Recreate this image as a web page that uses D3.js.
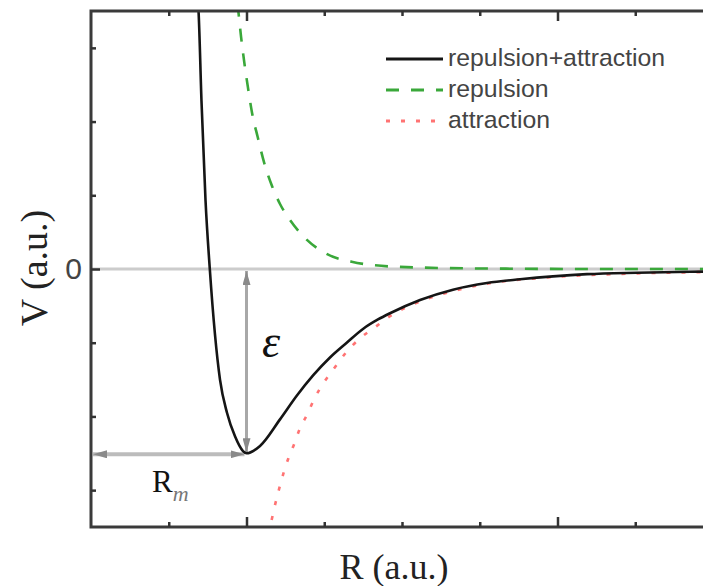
<!DOCTYPE html>
<html>
<head>
<meta charset="utf-8">
<script src="https://cdn.jsdelivr.net/npm/d3@7"></script>
<style>
	body { margin: 0; background: #fff; }
	svg { display: block; }
</style>
</head>
<body>
<svg id="chart" width="703" height="586"></svg>
<script>
'use strict';

// values (R and V in arbitrary units)
const totalR = [1.37, 1.383, 1.421, 1.473, 1.528, 1.659, 1.749, 1.852, 1.955, 2.0, 2.174, 2.431, 2.646, 2.859, 3.074, 3.289, 3.502, 3.691, 3.846, 4.232, 4.656, 5.093, 5.518, 5.942, 6.379, 7.023, 7.871, 8.0];
const totalV = [3.7, 3.5, 2.28, 0.93, 0.0, -1.5, -1.95, -2.27, -2.47, -2.5, -2.4, -2.04, -1.72, -1.44, -1.2, -1.0, -0.81, -0.685, -0.6, -0.42, -0.28, -0.19, -0.14, -0.1, -0.07, -0.05, -0.035, -0.033];

const repR = [1.885, 1.895, 1.929, 1.972, 2.019, 2.071, 2.144, 2.225, 2.328, 2.431, 2.559, 2.727, 3.031, 3.353, 3.653, 4.232, 5.26, 6.547, 8.0];
const repV = [3.6, 3.5, 3.16, 2.8, 2.46, 2.12, 1.79, 1.45, 1.126, 0.882, 0.665, 0.448, 0.204, 0.099, 0.05, 0.02, 0.005, 0.0, 0.0];

const attR = [2.277, 2.302, 2.367, 2.418, 2.473, 2.538, 2.611, 2.688, 2.787, 2.872, 2.988, 3.125, 3.267, 3.46, 3.64, 3.846, 4.232, 4.656, 5.093, 5.942, 7.023, 8.0];
const attV = [-3.6, -3.5, -3.2, -2.99, -2.78, -2.57, -2.38, -2.16, -1.96, -1.76, -1.55, -1.35, -1.15, -0.94, -0.8, -0.64, -0.44, -0.3, -0.2, -0.11, -0.06, -0.04];

// well minimum used by the epsilon / Rm arrows
const minR = 2.0;
const minV = -2.5;

const xMinorTicks = [1, 3, 4, 5, 7];
const xMajorTicks = [2, 6];
const yMinorTicks = [-3, -2, -1, 1, 2, 3];
const yLabelTicks = [0];

const legendLabels = ['repulsion+attraction', 'repulsion', 'attraction'];

const plotLeft = 91, plotTop = 11, plotRight = 713, plotBottom = 527;

const x = d3.scaleLinear().domain([0, 8]).range([plotLeft, plotRight]);
const y = d3.scaleLinear().domain([-3.5, 3.5]).range([plotBottom, plotTop]);

const svg = d3.select('#chart');
const defs = svg.append('defs');

defs.append('clipPath')
	.attr('id', 'plot-clip')
	.append('rect')
	.attr('x', plotLeft)
	.attr('y', plotTop)
	.attr('width', plotRight - plotLeft)
	.attr('height', plotBottom - plotTop);

const marker = defs.append('marker')
	.attr('id', 'arrow')
	.attr('markerUnits', 'userSpaceOnUse')
	.attr('viewBox', '0 0 14 8')
	.attr('markerWidth', 14)
	.attr('markerHeight', 8)
	.attr('refX', 14)
	.attr('refY', 4)
	.attr('orient', 'auto-start-reverse');
marker.append('path').attr('d', 'M0,0 L14,4 L0,8 z').attr('fill', '#8a8a8a');

// zero line
svg.append('line')
	.attr('x1', x(0)).attr('x2', x(8))
	.attr('y1', y(0)).attr('y2', y(0))
	.attr('stroke', '#cccccc')
	.attr('stroke-width', 3);

// arrows for epsilon and Rm
svg.append('line')
	.attr('x1', x(minR)).attr('x2', x(minR))
	.attr('y1', y(0) + 2).attr('y2', y(minV) - 1)
	.attr('stroke', '#a8a8a8')
	.attr('stroke-width', 3)
	.attr('marker-start', 'url(#arrow)')
	.attr('marker-end', 'url(#arrow)');

svg.append('line')
	.attr('x1', x(0) + 2).attr('x2', x(minR) - 2)
	.attr('y1', y(minV) + 1).attr('y2', y(minV) + 1)
	.attr('stroke', '#bcbcbc')
	.attr('stroke-width', 4)
	.attr('marker-start', 'url(#arrow)')
	.attr('marker-end', 'url(#arrow)');

// curves
const plot = svg.append('g').attr('clip-path', 'url(#plot-clip)');

function drawCurve(rs, vs, color, width, dash) {
	const line = d3.line()
		.x((d, i) => x(rs[i]))
		.y((d, i) => y(vs[i]))
		.curve(d3.curveMonotoneX);
	plot.append('path')
		.datum(vs)
		.attr('d', line)
		.attr('fill', 'none')
		.attr('stroke', color)
		.attr('stroke-width', width)
		.attr('stroke-dasharray', dash);
}

drawCurve(repR, repV, '#3aa83a', 2.6, '13,12');
drawCurve(attR, attV, '#ff7373', 2.6, '4,11');
drawCurve(totalR, totalV, '#151515', 2.6, null);

// frame
svg.append('rect')
	.attr('x', plotLeft).attr('y', plotTop)
	.attr('width', plotRight - plotLeft).attr('height', plotBottom - plotTop)
	.attr('fill', 'none')
	.attr('stroke', '#3a3a3a')
	.attr('stroke-width', 3);

// inward ticks
function ticks(axis, pos) {
	const g = svg.append('g').attr('transform', pos).call(axis);
	g.select('.domain').remove();
	g.selectAll('.tick line').attr('stroke', '#333').attr('stroke-width', 2.5);
	return g;
}

ticks(d3.axisBottom(x).tickValues(xMinorTicks).tickSize(-5).tickFormat(''), `translate(0,${plotBottom})`);
ticks(d3.axisBottom(x).tickValues(xMajorTicks).tickSize(-10).tickFormat(''), `translate(0,${plotBottom})`);
ticks(d3.axisTop(x).tickValues(xMinorTicks).tickSize(-5).tickFormat(''), `translate(0,${plotTop})`);
ticks(d3.axisTop(x).tickValues(xMajorTicks).tickSize(-10).tickFormat(''), `translate(0,${plotTop})`);
ticks(d3.axisLeft(y).tickValues(yMinorTicks).tickSize(-5).tickFormat(''), `translate(${plotLeft},0)`);

const yLab = ticks(
	d3.axisLeft(y).tickValues(yLabelTicks).tickSize(-9).tickPadding(9).tickFormat(d3.format('d')),
	`translate(${plotLeft},0)`
);
yLab.selectAll('.tick text')
	.attr('font-family', '"Liberation Sans", Arial, sans-serif')
	.attr('font-size', 30)
	.attr('fill', '#444');

// axis titles
svg.append('text')
	.attr('transform', 'translate(34,268) rotate(-90)')
	.attr('text-anchor', 'middle')
	.attr('dominant-baseline', 'central')
	.attr('font-family', '"Liberation Serif", "Times New Roman", serif')
	.attr('font-size', 38)
	.attr('fill', '#222')
	.text('V (a.u.)');

svg.append('text')
	.attr('x', 394)
	.attr('y', 579)
	.attr('text-anchor', 'middle')
	.attr('font-family', '"Liberation Serif", "Times New Roman", serif')
	.attr('font-size', 36)
	.attr('fill', '#222')
	.text('R (a.u.)');

// annotations
svg.append('text')
	.attr('x', x(2.2))
	.attr('y', y(-1.2))
	.attr('font-family', '"Liberation Serif", "Times New Roman", serif')
	.attr('font-style', 'italic')
	.attr('font-size', 46)
	.attr('fill', '#111')
	.text('ε');

const rm = svg.append('text')
	.attr('x', x(0.785))
	.attr('y', y(-3.03))
	.attr('font-family', '"Liberation Serif", "Times New Roman", serif')
	.attr('font-size', 31)
	.attr('fill', '#111');
rm.append('tspan').text('R');
rm.append('tspan')
	.attr('dy', 9)
	.attr('font-size', 22)
	.attr('font-style', 'italic')
	.attr('fill', '#777')
	.text('m');

// legend
const legendStyles = [
	{ color: '#151515', dash: null },
	{ color: '#3aa83a', dash: '13,12' },
	{ color: '#ff7373', dash: '4,11' },
];

const legend = svg.append('g').attr('transform', 'translate(386,59)');
legendLabels.forEach((label, i) => {
	const row = legend.append('g').attr('transform', `translate(0,${i * 31})`);
	row.append('line')
		.attr('x1', 0).attr('x2', 57)
		.attr('stroke', legendStyles[i].color)
		.attr('stroke-width', 3)
		.attr('stroke-dasharray', legendStyles[i].dash);
	row.append('text')
		.attr('x', 62)
		.attr('y', 7)
		.attr('font-family', '"Liberation Sans", Arial, sans-serif')
		.attr('font-size', 24.8)
		.attr('fill', '#444')
		.text(label);
});
</script>
</body>
</html>
